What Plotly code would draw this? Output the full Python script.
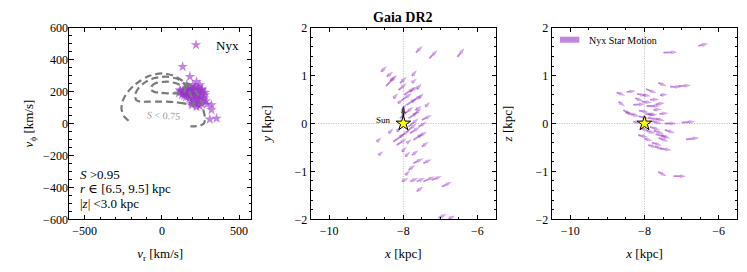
import plotly.graph_objects as go

# ---------------- data ----------------
# Panel 1: Nyx stars in (v_r, v_phi) [km/s]
vr_stars = [134, 181, 246, 257, 321, 321, 310, 354, 224, 192, 267, 278, 224, 160, 116,
            150, 165, 175, 185, 195, 205, 215, 170, 160, 140, 130, 145, 155, 180, 200,
            210, 220, 230, 240, 235, 250, 260, 245, 225, 205, 190, 175, 200, 215, 235,
            120, 110, 190, 215, 240, 255, 270, 285, 200, 185, 165, 150, 135, 260, 280,
            230, 245, 195, 290]
vphi_stars = [356, 293, 241, 210, 116, 85, 26, 32, 105, 126, 147, 178, 262, 241, 210,
              195, 185, 200, 175, 190, 180, 195, 170, 205, 190, 180, 175, 165, 160, 165,
              150, 170, 185, 175, 155, 165, 190, 205, 210, 215, 220, 225, 240, 230, 225,
              200, 190, 140, 130, 140, 125, 160, 140, 200, 205, 215, 215, 205, 215, 195,
              120, 110, 115, 120]

# Background (S < 0.75) density contours
cont_outer_vr = [-216, -245, -262, -255, -228, -185, -140, -96, -45, 12, 73, 138, 180, 220, 250, 267, 280, 272, 246, 210, 185]
cont_outer_vphi = [17, 45, 90, 140, 190, 235, 268, 293, 308, 314, 300, 265, 240, 200, 150, 90, 30, 0, -14, -18, -18]
cont_mid_vr = [206, 142, 80, 34, -30, -75, -140, -165, -175, -153, -110, -53, 0, 34, 100, 140, 170, 195, 206]
cont_mid_vphi = [116, 126, 134, 137, 137, 137, 137, 145, 178, 220, 258, 283, 292, 293, 280, 255, 215, 160, 116]
cont_in_vr = [-75, -65, -42, 0, 34, 80, 120, 145, 150, 130, 99, 60, 34, -10, -53, -75]
cont_in_vphi = [215, 235, 252, 260, 262, 255, 241, 225, 205, 192, 189, 189, 189, 192, 199, 215]

# Panel 2: positions [kpc] and velocities [km/s] in the x-y plane
xy_x = [-7.66, -7.30, -6.54, -8.60, -8.47, -8.36, -8.09, -7.77, -7.77, -8.27,
        -8.13, -7.98, -7.82, -7.64, -7.59, -8.15, -8.04, -7.91, -7.77, -7.68,
        -7.95, -7.86, -7.73, -7.50, -7.86, -7.91, -8.09, -8.27, -8.18, -7.82,
        -7.73, -7.59, -7.91, -8.72, -8.67, -8.40, -8.04, -7.95, -7.77, -7.50,
        -7.73, -7.46, -7.86, -7.95, -8.04, -7.82, -7.64, -7.46, -7.23, -6.96,
        -7.64, -7.05, -6.78, -8.04, -8.09, -7.59, -8.18, -7.41, -8.45]
xy_y = [1.48, 1.36, 1.39, 1.08, 0.78, 0.89, 0.84, 0.99, 0.85, 0.525,
        0.70, 0.595, 0.665, 0.71, 0.525, 0.42, 0.49, 0.386, 0.455, 0.281,
        0.212, 0.108, 0.177, 0.073, -0.066, -0.17, -0.275, -0.38, -0.45, -0.205,
        -0.345, -0.275, -0.41, -0.38, -0.66, -0.205, -0.59, -0.69, -0.66, -0.485,
        -0.83, -0.83, -0.97, -1.08, -1.21, -1.21, -1.21, -1.21, -1.18, -1.32,
        -1.42, -1.97, -1.99, 0.28, 0.107, -0.07, -0.17, 0.35, 0.98]
xy_vx = [113, 141, 118, 96, 186, 96, 113, 84, 84, 84,
         141, 180, 141, 84, 84, 96, 169, 169, 169, 113,
         141, 169, 141, 169, 169, 169, 169, 197, 169, 169,
         169, 141, 84, 84, 84, 84, 84, 84, 113, 113,
         169, 141, 113, 84, 113, 141, 141, 197, 169, 169,
         113, 141, 113, 84, 113, 141, 84, 84, 113]
xy_vy = [91, 109, 118, 74, 144, 65, 87, 78, 57, 65,
         87, 100, 74, 78, 65, 57, 87, 87, 87, 52,
         87, 87, 87, 65, 109, 109, 87, 109, 87, 87,
         87, 65, 52, 57, 52, 65, 65, 65, 65, 65,
         65, 52, 65, 65, 44, 44, 44, 65, 52, 65,
         65, 52, 44, 87, 87, 65, 65, 65, 65]

# Panel 3: positions [kpc] and velocities [km/s] in the x-z plane
xz_x = [-6.55, -7.49, -7.63, -7.31, -7.09, -8.75, -8.48, -7.96, -7.58, -8.70,
        -8.25, -8.30, -8.07, -7.94, -7.76, -8.57, -8.50, -8.15, -7.98, -7.90,
        -7.80, -8.30, -8.15, -7.85, -7.75, -7.70, -7.62, -7.45, -7.45, -7.00,
        -6.88, -8.17, -8.00, -7.71, -7.58, -7.80, -7.63, -7.22, -8.05, -7.85,
        -7.70, -7.90, -8.05, -7.95, -7.55, -8.20, -7.70, -8.10, -7.90, -7.60, -8.35]
xz_z = [1.62, 1.48, 0.85, 0.77, 0.78, 0.65, 0.66, 0.72, 0.59, 0.455,
        0.53, 0.39, 0.455, 0.365, 0.28, 0.28, 0.24, 0.27, 0.20, 0.12,
        0.05, 0.04, 0.15, -0.07, -0.15, -0.22, -0.30, -0.135, 0.0, 0.02,
        -0.33, -0.24, -0.32, -0.48, -0.52, -0.40, -1.01, -1.10, 0.60, 0.50,
        0.40, 0.20, 0.05, -0.15, -0.25, 0.62, 0.10, -0.10, -0.45, 0.20, 0.20]
xz_vx = [169, 238, 144, 194, 213, 144, 156, 181, 131, 112,
         138, 200, 169, 225, 138, 138, 138, 169, 169, 188,
         169, 138, 169, 169, 169, 200, 169, 169, 200, 225,
         225, 169, 138, 138, 194, 169, 144, 213, 138, 156,
         156, 156, 125, 156, 156, 156, 156, 138, 156, 156, 138]
xz_vz = [31, 6, -44, -6, 12, -44, 12, -56, 12, -62,
         -44, 12, -12, 0, 12, -62, -50, -25, -19, -31,
         -38, -19, -31, -44, -44, -44, -50, -41, 0, 12,
         19, -31, -25, -44, -25, -38, -56, 0, -19, 0,
         19, -12, -31, -38, -38, -31, -25, -31, -31, 12, -38]

# Sun
sun_x, sun_y, sun_z = -8.0, 0.0, 0.0
sun_vx, sun_vy = 0.0, 232.0

info_lines = ["<i>S</i> &gt;0.95", "<i>r</i> ∈ [6.5, 9.5] kpc", "|<i>z</i>| &lt;3.0 kpc"]

# ---------------- style ----------------
W, H = 747, 272
FONT = "Liberation Serif, DejaVu Serif, serif"
PURPLE = "#9932CC"
PURPLE_A = "rgba(153,50,204,0.6)"
ARROW_SCALE = 0.0016  # kpc per km/s

def px_x(p):
    return p / W

def px_y(p):
    return 1 - p / H

fig = go.Figure()

# Panel 1
fig.add_trace(go.Scatter(x=vr_stars, y=vphi_stars, mode="markers", name="Nyx",
                         marker=dict(symbol="star", size=8, color=PURPLE, opacity=0.6,
                                     line=dict(width=0)),
                         xaxis="x", yaxis="y", showlegend=True, hoverinfo="skip"))
for cx, cy in [(cont_outer_vr, cont_outer_vphi), (cont_mid_vr, cont_mid_vphi), (cont_in_vr, cont_in_vphi)]:
    fig.add_trace(go.Scatter(x=cx, y=cy, mode="lines",
                             line=dict(color="#7a7a7a", width=2.2, dash="7px,4px", shape="spline", smoothing=0.6),
                             xaxis="x", yaxis="y", showlegend=False, hoverinfo="skip"))


def arrows(xs, ys, vxs, vys, xa, ya, color, width, head):
    X, Y, S = [], [], []
    for x0, y0, vx, vy in zip(xs, ys, vxs, vys):
        X += [x0, x0 + vx * ARROW_SCALE, None]
        Y += [y0, y0 + vy * ARROW_SCALE, None]
        S += [0, head, 0]
    return go.Scatter(x=X, y=Y, mode="lines+markers",
                      line=dict(color=color, width=width),
                      marker=dict(symbol="arrow", size=S, angleref="previous", color=color,
                                  line=dict(width=0)),
                      xaxis=xa, yaxis=ya, showlegend=False, hoverinfo="skip", connectgaps=False)

# Panel 2
fig.add_trace(arrows(xy_x, xy_y, xy_vx, xy_vy, "x2", "y2", PURPLE_A, 1.8, 6.5))
fig.add_trace(arrows([sun_x], [sun_y], [sun_vx], [sun_vy], "x2", "y2", "black", 1.5, 8))
fig.add_trace(go.Scatter(x=[sun_x], y=[sun_y], mode="markers",
                         marker=dict(symbol="star", size=11, color="yellow", line=dict(color="black", width=1)),
                         xaxis="x2", yaxis="y2", showlegend=False, hoverinfo="skip"))

# Panel 3
fig.add_trace(arrows(xz_x, xz_z, xz_vx, xz_vz, "x3", "y3", PURPLE_A, 1.8, 6.5))
fig.add_trace(go.Scatter(x=[sun_x], y=[sun_z], mode="markers",
                         marker=dict(symbol="star", size=11, color="yellow", line=dict(color="black", width=1)),
                         xaxis="x3", yaxis="y3", showlegend=False, hoverinfo="skip"))

tickfont = dict(family=FONT, size=12, color="black")
titlefont = dict(family=FONT, size=13, color="black")

def ax(domain, rng, dtick, minor, title, anchor, standoff, lstand=0):
    return dict(domain=domain, range=rng, dtick=dtick, tick0=0, ticks="inside", ticklen=4.5,
                tickwidth=0.8, tickcolor="black", mirror="allticks", showline=True,
                linecolor="black", linewidth=1, showgrid=False, zeroline=False,
                tickfont=tickfont, anchor=anchor, automargin=False, ticklabelstandoff=lstand,
                minor=dict(ticks="inside", ticklen=2.5, tickwidth=0.7, tickcolor="black", dtick=minor, showgrid=False),
                title=dict(text=title, font=titlefont, standoff=standoff))

ydom = [px_y(219.3), px_y(27.7)]
fig.update_layout(
    width=W, height=H, autosize=False,
    margin=dict(l=0, r=0, t=0, b=0, autoexpand=False),
    paper_bgcolor="white", plot_bgcolor="white",
    font=dict(family=FONT, color="black"),
    xaxis=ax([px_x(69.3), px_x(251)], [-600, 577], 500, 100, "<i>v</i><sub>r</sub> [km/s]", "y", 12),
    yaxis=ax(ydom, [-600, 600], 200, 50, "<i>v</i><sub>ϕ</sub> [km/s]", "x", 6, -2),
    xaxis2=ax([px_x(310.7), px_x(496)], [-10.5, -5.5], 2, 0.5, "<i>x</i> [kpc]", "y2", 12),
    yaxis2=ax(ydom, [-2, 2], 1, 0.2, "<i>y</i> [kpc]", "x2", 19, 0),
    xaxis3=ax([px_x(551.7), px_x(737.3)], [-10.5, -5.5], 2, 0.5, "<i>x</i> [kpc]", "y3", 12),
    yaxis3=ax(ydom, [-2, 2], 1, 0.2, "<i>z</i> [kpc]", "x3", 19, 0),
    legend=dict(x=px_x(176), y=px_y(30), xanchor="left", yanchor="top",
                bgcolor="rgba(0,0,0,0)", font=dict(family=FONT, size=13, color="black")),
)

# reference lines through the Sun
for xa, ya, yv in [("x2", "y2", sun_y), ("x3", "y3", sun_z)]:
    fig.add_shape(type="line", xref=xa, yref=ya + " domain", x0=sun_x, x1=sun_x, y0=0, y1=1,
                  line=dict(color="#aaa", width=0.8, dash="1px,1.5px"), layer="below")
    fig.add_shape(type="line", xref=xa + " domain", yref=ya, x0=0, x1=1, y0=yv, y1=yv,
                  line=dict(color="#aaa", width=0.8, dash="1px,1.5px"), layer="below")

# texts
fig.add_annotation(text="<b>Gaia DR2</b>", xref="paper", yref="paper", x=px_x(403.3), y=px_y(17.3),
                   showarrow=False, font=dict(family=FONT, size=14, color="black"), xanchor="center", yanchor="middle")
fig.add_annotation(text="Sun", xref="x2", yref="y2", x=-8.27, y=0.07, showarrow=False,
                   xanchor="right", yanchor="middle", font=dict(family=FONT, size=9, color="black"))
fig.add_annotation(text="<i>S</i> &lt; 0.75", xref="x", yref="y", x=10, y=47, showarrow=False,
                   textangle=3, font=dict(family=FONT, size=10, color="#999"))
for i, line in enumerate(info_lines):
    fig.add_annotation(text=line, xref="paper", yref="paper", x=px_x(78), y=px_y(174 + 14.6 * i),
                       xanchor="left", yanchor="middle", showarrow=False,
                       font=dict(family=FONT, size=13, color="black"))
# panel 3 legend patch
fig.add_shape(type="rect", xref="paper", yref="paper", x0=px_x(560), x1=px_x(579.3),
              y0=px_y(42.7), y1=px_y(36.7), fillcolor=PURPLE_A, line=dict(width=0))
fig.add_annotation(text="Nyx Star Motion", xref="paper", yref="paper", x=px_x(587), y=px_y(40),
                   xanchor="left", yanchor="middle", showarrow=False,
                   font=dict(family=FONT, size=10, color="black"))

fig.write_html("out.html", config={"displayModeBar": False},
               post_script="document.body.style.margin='0';document.body.style.overflow='hidden';")
